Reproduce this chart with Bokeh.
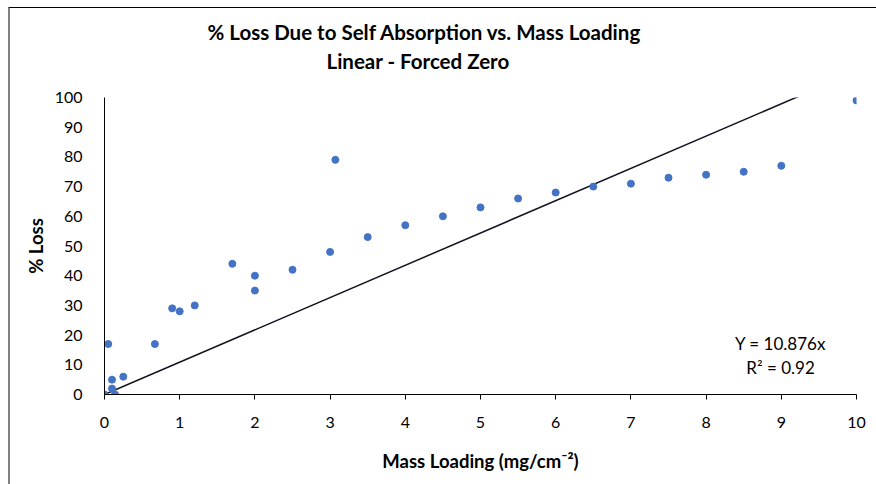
from bokeh.plotting import figure
from bokeh.models import Range1d, Title, Label, FixedTicker, ColumnDataSource
from bokeh.embed import file_html
from bokeh.resources import INLINE

# Data
mass_loading = [0, 0.05, 0.1, 0.1, 0.14, 0.25, 0.67, 0.9, 1.0, 1.2, 1.7, 2.0, 2.0,
                2.5, 3.0, 3.07, 3.5, 4.0, 4.5, 5.0, 5.5, 6.0, 6.5, 7.0, 7.5, 8.0,
                8.5, 9.0, 10.0]
pct_loss = [0, 17, 5, 2, 0, 6, 17, 29, 28, 30, 44, 40, 35,
            42, 48, 79, 53, 57, 60, 63, 66, 68, 70, 71, 73, 74,
            75, 77, 99]
slope = 10.876
r_squared = 0.92
trend_x = [0, 10]
trend_y = [slope * v for v in trend_x]
x_ticks = list(range(0, 11))
y_ticks = list(range(0, 101, 10))

FONT = "Lato"

p = figure(width=868, height=477, output_backend="svg", toolbar_location=None,
           x_range=Range1d(0, 10), y_range=Range1d(0, 100),
           min_border_left=94, min_border_right=22, min_border_top=89,
           min_border_bottom=91)
p.styles = {"margin-left": "8px", "margin-top": "7px",
            "border-top": "1px solid black", "border-left": "2px solid #808080",
            "box-sizing": "border-box"}
p.outline_line_color = None
p.background_fill_color = "white"
p.border_fill_color = "white"
p.grid.visible = False

p.line(trend_x, trend_y, line_color="#111122", line_width=1.5)
src = ColumnDataSource(dict(x=mass_loading, y=pct_loss))
p.scatter("x", "y", source=src, size=7, fill_color="#4472C4", line_color="#4472C4")

# Axes
p.xaxis.ticker = FixedTicker(ticks=x_ticks)
p.yaxis.ticker = FixedTicker(ticks=y_ticks)
for ax in (p.xaxis, p.yaxis):
    ax.axis_line_color = "black"
    ax.axis_line_width = 1
    ax.minor_tick_line_color = None
    ax.major_label_text_font = FONT
    ax.major_label_text_font_size = "16px"
    ax.major_label_text_color = "black"
    ax.axis_label_text_font = FONT
    ax.axis_label_text_font_size = "18.5px"
    ax.axis_label_text_font_style = "bold"
    ax.axis_label_text_color = "black"

p.xaxis.major_tick_in = 0
p.xaxis.major_tick_out = 5
p.xaxis.major_tick_line_color = "black"
p.xaxis.major_label_standoff = 17
p.xaxis.axis_label = "Mass Loading (mg/cm\u207B\u00B2)"
p.xaxis.axis_label_standoff = 19

p.yaxis.major_tick_line_color = None
p.yaxis.major_label_standoff = 16
p.yaxis.axis_label = "% Loss"
p.yaxis.axis_label_standoff = 5

# Titles (two lines)
p.add_layout(Title(text="Linear - Forced Zero", align="left", text_font=FONT,
                   text_font_size="20.5px", text_font_style="bold",
                   text_color="black", standoff=50, offset=222), "above")
p.add_layout(Title(text="% Loss Due to Self Absorption vs. Mass Loading", align="left",
                   text_font=FONT, text_font_size="20.5px", text_font_style="bold",
                   text_color="black", standoff=-44, offset=103), "above")

# Trendline equation
p.add_layout(Label(x=8.99, y=17.2, text=f"Y = {slope}x", text_align="center",
                   text_baseline="middle", text_font=FONT, text_font_size="17px",
                   text_color="black"))
p.add_layout(Label(x=8.99, y=9.1, text=f"R\u00B2 = {r_squared}", text_align="center",
                   text_baseline="middle", text_font=FONT, text_font_size="17px",
                   text_color="black"))

open("out.html", "w").write(file_html(p, INLINE))
